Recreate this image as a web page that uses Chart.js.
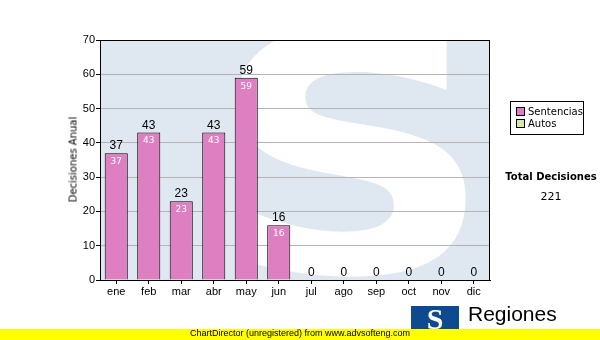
<!DOCTYPE html>
<html>
<head>
<meta charset="utf-8">
<script src="https://cdn.jsdelivr.net/npm/chart.js@4"></script>
<style>
  body { margin: 0; background: #fff; }
  #wrap { position: relative; width: 600px; height: 340px; overflow: hidden; font-family: "DejaVu Sans", Verdana, sans-serif; }
  #chart { position: absolute; left: 0; top: 0; }
  .ytitle { position: absolute; left: 23px; top: 154px; width: 100px; text-align: center; font-size: 10px; transform: rotate(-90deg); white-space: nowrap; }
  .legend { position: absolute; left: 510px; top: 101px; width: 72px; height: 32px; border: 1px solid #000; background: #fff; font-size: 10px; }
  .legend div { position: absolute; left: 5px; white-space: nowrap; line-height: 12px; }
  .legend span { display: inline-block; width: 7px; height: 7px; border: 1px solid #000; margin-right: 3px; vertical-align: -1px; }
  .total { position: absolute; left: 500px; width: 102px; text-align: center; font-size: 10px; }
  .footer { position: absolute; left: 0; top: 329px; width: 600px; height: 11px; background: #ffff00; }
  .footer div { position: absolute; left: 0; width: 600px; text-align: center; top: -1px; font: 9px "Liberation Sans", Arial, sans-serif; color: #000; }
  .logo { position: absolute; left: 411px; top: 306px; width: 48px; height: 25px; background: #0d4a8f; color: #fff; font: bold 30px "Liberation Serif", serif; text-align: center; line-height: 26px; overflow: hidden; }
  .regiones { position: absolute; left: 468px; top: 302px; font: 21px "Liberation Sans", Arial, sans-serif; color: #000; }
</style>
</head>
<body>
<div id="wrap">
  <canvas id="chart" width="600" height="340"></canvas>
  <div class="ytitle">Decisiones Anual</div>
  <div class="legend">
    <div style="top:4px"><span style="background:#dd7fc0"></span>Sentencias</div>
    <div style="top:16px"><span style="background:#d9e8a4"></span>Autos</div>
  </div>
  <div class="total" style="top:171px;font-weight:bold">Total Decisiones</div>
  <div class="total" style="top:190px;font-size:11px">221</div>
  <div class="regiones">Regiones</div>
  <div class="logo">S</div>
  <div class="footer"><div>ChartDirector (unregistered) from www.advsofteng.com</div></div>
</div>
<script>
// datos del gráfico
const months = ['ene', 'feb', 'mar', 'abr', 'may', 'jun', 'jul', 'ago', 'sep', 'oct', 'nov', 'dic'];
const sentencias = [37, 43, 23, 43, 59, 16, 0, 0, 0, 0, 0, 0];
const autos = [0, 0, 0, 0, 0, 0, 0, 0, 0, 0, 0, 0];
const yTicks = [0, 10, 20, 30, 40, 50, 60, 70];

// marca de agua (S blanca sobre fondo azul claro)
const watermark = {
  id: 'watermark',
  beforeDraw(chart) {
    const { ctx, chartArea: a } = chart;
    ctx.save();
    ctx.beginPath();
    ctx.rect(a.left, a.top, a.right - a.left, a.bottom - a.top);
    ctx.clip();
    ctx.fillStyle = '#dfe8f1';
    ctx.fillRect(a.left, a.top, a.right - a.left, a.bottom - a.top);
    ctx.fillStyle = '#fff';
    ctx.translate(352, 272);
    ctx.scale(1.2, 1);
    ctx.font = 'bold 330px "DejaVu Sans"';
    ctx.textAlign = 'center';
    ctx.textBaseline = 'alphabetic';
    ctx.fillText('S', 0, 0);
    ctx.restore();
  },
};

// marco y etiquetas de valores
const labels = {
  id: 'labels',
  afterDatasetsDraw(chart) {
    const { ctx, chartArea: a, scales } = chart;
    ctx.save();
    ctx.strokeStyle = '#000';
    ctx.lineWidth = 1;
    ctx.strokeRect(a.left + 0.5, a.top + 0.5, a.right - a.left - 1, a.bottom - a.top);
    months.forEach((m, i) => {
      const x = scales.x.getPixelForValue(i);
      const total = sentencias[i] + autos[i];
      const yTop = scales.y.getPixelForValue(total);
      ctx.fillStyle = '#000';
      ctx.font = '12px "Liberation Sans", Arial';
      ctx.textAlign = 'center';
      ctx.textBaseline = 'bottom';
      ctx.fillText(String(total), x, yTop - 1);
      if (sentencias[i] > 0) {
        ctx.fillStyle = '#fff';
        ctx.font = '9px "DejaVu Sans"';
        ctx.textBaseline = 'top';
        ctx.fillText(String(sentencias[i]), x, yTop + 4);
      }
    });
    ctx.restore();
  },
};

new Chart(document.getElementById('chart'), {
  type: 'bar',
  data: {
    labels: months,
    datasets: [
      { label: 'Sentencias', data: sentencias, backgroundColor: '#dd7fc0', borderColor: '#000', borderWidth: 1, borderSkipped: 'bottom' },
      { label: 'Autos', data: autos, backgroundColor: '#d9e8a4', borderColor: '#000', borderWidth: 1 },
    ],
  },
  options: {
    responsive: false,
    animation: false,
    devicePixelRatio: 1,
    layout: { padding: { left: 0, right: 110, top: 40, bottom: 0 } },
    datasets: { bar: { categoryPercentage: 1, barPercentage: 0.71 } },
    plugins: { legend: { display: false }, tooltip: { enabled: false } },
    scales: {
      x: {
        stacked: true,
        grid: { display: true, drawOnChartArea: false, offset: false, tickLength: 4, color: '#000' },
        border: { color: '#000' },
        ticks: { color: '#000', font: { size: 11, family: '"Liberation Sans", Arial' }, padding: 1, maxRotation: 0 },
        afterFit: (s) => { s.height = 60; },
      },
      y: {
        stacked: true,
        min: 0,
        max: 70,
        afterBuildTicks: (s) => { s.ticks = yTicks.map((v) => ({ value: v })); },
        grid: { color: '#b4b4b4', drawTicks: true, tickLength: 4, tickColor: '#000' },
        border: { color: '#000' },
        ticks: { color: '#000', font: { size: 11, family: '"Liberation Sans", Arial' }, padding: 1 },
        afterFit: (s) => { s.width = 100; },
      },
    },
  },
  plugins: [watermark, labels],
});
</script>
</body>
</html>
